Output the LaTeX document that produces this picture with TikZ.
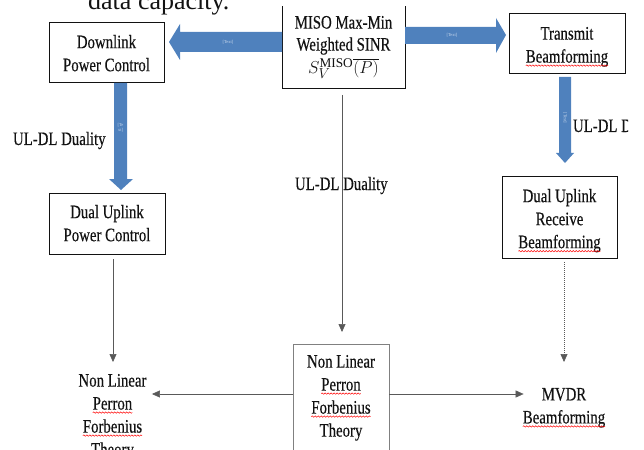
\documentclass[tikz,border=0pt]{standalone}
\usepackage{fontspec}
\setmainfont{Liberation Serif}
\newfontfamily\condfont[FakeStretch=0.78,FakeBold=0.35]{Liberation Serif}
\usetikzlibrary{arrows.meta,calc,decorations.pathmorphing}
\definecolor{arrowblue}{HTML}{4F81BD}
\definecolor{lblcol}{HTML}{C6D6EC}
\definecolor{thincol}{HTML}{595959}
\definecolor{txtcol}{HTML}{121212}
\newcommand\sqw[1]{\tikz[baseline=(sqwtxt.base)]{\node[inner sep=0pt,outer sep=0pt,draw=none](sqwtxt){#1};\draw[red,line width=0.5pt,decorate,decoration={snake,amplitude=0.7pt,segment length=3pt}]([yshift=-3pt]sqwtxt.base west)--([yshift=-3pt]sqwtxt.base east);}}
\tikzset{
  boxn/.style={draw=txtcol,line width=0.9pt,inner sep=0pt,outer sep=0pt,anchor=north west},
  txt/.style={font=\condfont\fontsize{19}{23}\selectfont,align=center,inner sep=0pt,outer sep=0pt,anchor=north,text=txtcol},
  lbl/.style={font=\condfont\fontsize{19}{23}\selectfont,inner sep=0pt,outer sep=0pt,anchor=base west,text=txtcol},
  thinarrow/.style={draw=thincol,line width=0.6pt,-{Triangle[length=8pt,width=7pt]}},
  dotarrow/.style={thinarrow,dash pattern=on 1pt off 1pt},
  blockarrow/.style={fill=arrowblue},
  tinylabel/.style={font=\fontsize{4.5}{5}\selectfont,text=lblcol,inner sep=0pt,align=center},
}
\begin{document}
\begin{tikzpicture}[x=1pt,y=-1pt]
\useasboundingbox (0,0) rectangle (644,449);
\clip (0,0) rectangle (644,449);
% boxes
\node[boxn,minimum width=115pt,minimum height=60pt] (dpc) at (49,22) {};
\node[boxn,minimum width=123pt,minimum height=85pt] (miso) at (282,3) {};
\node[boxn,minimum width=116pt,minimum height=60pt] (tb) at (509,13) {};
\node[boxn,minimum width=116pt,minimum height=61pt] (dupc) at (49,193) {};
\node[boxn,minimum width=115pt,minimum height=82pt] (durb) at (502,176) {};
\node[boxn,draw=black!50,line width=0.7pt,minimum width=96pt,minimum height=120pt] (nlc) at (293,344) {};
\fill[white] (0,0) rectangle (644,6.5);
% top text
\node[font=\fontsize{26}{30}\selectfont,inner sep=0pt,anchor=base west,text=txtcol] (cap) at (88,10) {data capacity.};
% box texts
\node[txt] (dpct) at (106.5,35) {Downlink\\Power Control};
\node[txt,font=\condfont\fontsize{19}{22}\selectfont] (misot) at (343.5,16) {MISO Max-Min\\Weighted SINR\\[1pt]$S_V^{\mathrm{MISO}}\overline{(P)}$};
\node[txt] (tbt) at (567,27) {Transmit\\\sqw{Beamforming}};
\node[txt] (dupct) at (107,205) {Dual Uplink\\Power Control};
\node[txt] (durbt) at (559.5,189) {Dual Uplink\\Receive\\\sqw{Beamforming}};
\node[txt] (nlct) at (341,355) {Non Linear\\\sqw{Perron}\\\sqw{Forbenius}\\Theory};
\node[txt] (nll) at (112.5,374) {Non Linear\\\sqw{Perron}\\\sqw{Forbenius}\\Theory};
\node[txt] (mvdr) at (564,388) {MVDR\\\sqw{Beamforming}};
% labels
\node[lbl] (dual1) at (13,145) {UL-DL Duality};
\node[lbl] (dual2) at (295,190) {UL-DL Duality};
\begin{scope}
\clip (560,100) rectangle (628,150);
\node[lbl] (dual3) at (573,132) {UL-DL Duality};
\end{scope}
% block arrows
\fill[blockarrow] ($(miso.north west)+(0,29)$) -- ($(miso.north west)+(-102,29)$) -- ($(miso.north west)+(-102,21)$) -- ($(dpc.north east)+(5,20)$) -- ($(miso.north west)+(-102,57)$) -- ($(miso.north west)+(-102,49)$) -- ($(miso.north west)+(0,49)$) -- cycle;
\fill[blockarrow] ($(miso.north east)+(0,24)$) -- ($(miso.north east)+(91,24)$) -- ($(miso.north east)+(91,15)$) -- ($(tb.north west)+(-3,22)$) -- ($(miso.north east)+(91,50)$) -- ($(miso.north east)+(91,41)$) -- ($(miso.north east)+(0,41)$) -- cycle;
\fill[blockarrow] ($(dpc.south west)+(65,1)$) -- ($(dpc.south west)+(65,97)$) -- ($(dpc.south west)+(60,97)$) -- ($(dupc.north west)+(72,-3)$) -- ($(dpc.south west)+(84,97)$) -- ($(dpc.south west)+(78,97)$) -- ($(dpc.south west)+(78,1)$) -- cycle;
\fill[blockarrow] ($(tb.south west)+(50,4)$) -- ($(tb.south west)+(50,80)$) -- ($(tb.south west)+(47,80)$) -- ($(durb.north west)+(63,-13)$) -- ($(tb.south west)+(65,80)$) -- ($(tb.south west)+(62,80)$) -- ($(tb.south west)+(62,4)$) -- cycle;
\node[tinylabel] (t1) at (228,42) {[Text]};
\node[tinylabel] (t2) at (452,35) {[Text]};
\node[tinylabel] (t3) at (120.5,128) {[Te\\xt]};
\node[tinylabel,rotate=-90] (t4) at (565,118) {[Text]};
% thin arrows
\draw[thinarrow] ($(miso.south)+(-1.5,7)$) -- ($(nlc.north)+(1,-12)$);
\draw[thinarrow] ($(dupc.south)+(6,5)$) -- ($(nll.north)+(0.5,-12)$);
\draw[dotarrow] ($(durb.south)+(4.5,4)$) -- ($(mvdr.north)+(0,-26)$);
\coordinate (hl) at ($(nlc.north west)+(0,50)$);
\coordinate (hr) at ($(nlc.north east)+(0,50)$);
\draw[thinarrow] (hl) -- ($(nll.east |- hl)+(5.5,0)$);
\draw[thinarrow] (hr) -- ($(mvdr.west |- hr)+(1,0)$);
\end{tikzpicture}
\end{document}
